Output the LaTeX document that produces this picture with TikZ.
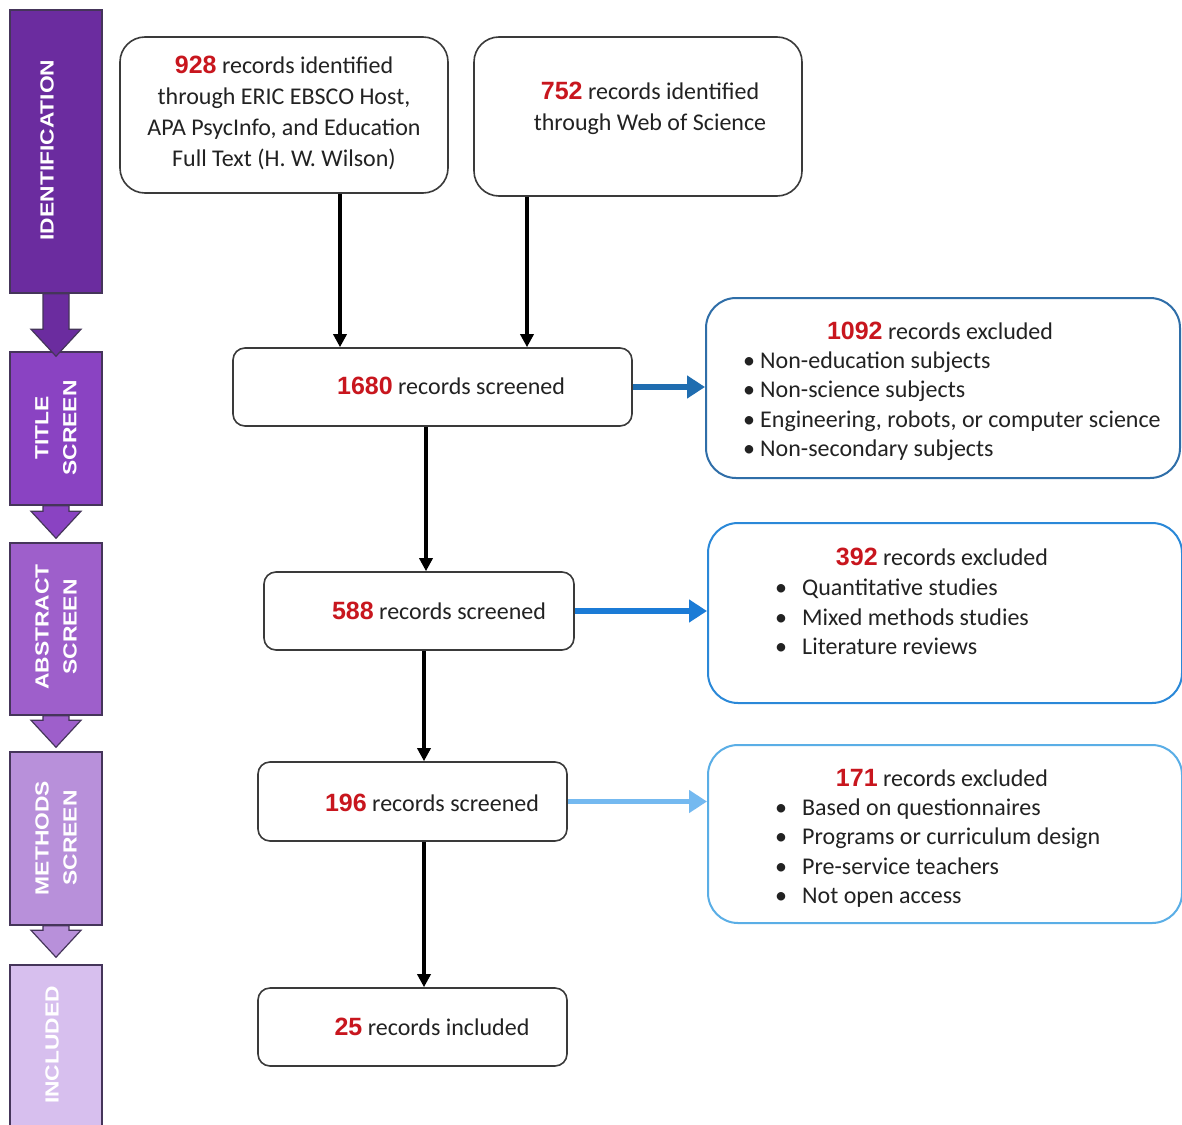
\documentclass[tikz,border=0pt]{standalone}
\usepackage{fontspec}
\setmainfont{Carlito}
\newfontfamily\numfont{Liberation Sans}
\newfontfamily\phasefont{Liberation Sans}[FakeStretch=1.2]
\usetikzlibrary{arrows.meta,calc}
\definecolor{numred}{HTML}{C8161E}
\definecolor{textc}{HTML}{222222}
\definecolor{boxc}{HTML}{3A3A3A}
\definecolor{phaseline}{HTML}{45355A}
\definecolor{phA}{HTML}{6B2C9F}
\definecolor{phB}{HTML}{8A43C2}
\definecolor{phC}{HTML}{9E5FCB}
\definecolor{phD}{HTML}{B890DA}
\definecolor{phE}{HTML}{D7BFEE}
\definecolor{exA}{HTML}{2F6EA8}
\definecolor{exB}{HTML}{2A88D8}
\definecolor{exC}{HTML}{5AAEE6}
\definecolor{arA}{HTML}{1F6DB0}
\definecolor{arB}{HTML}{1B7BD6}
\definecolor{arC}{HTML}{74B9F0}
\newcommand{\rn}[1]{{\numfont\bfseries\fontsize{25}{31}\selectfont\color{numred}#1}}
\newcommand{\bl}[1]{\makebox[#1][l]{•}}
\newcommand{\pharrow}[4]{%
  \coordinate (tip#1) at ($(#2.north)+(0,#4)$);
  \filldraw[parrow, fill=#3] ([xshift=-13pt]#1.south) -- ($(tip#1)+(-13,-27)$) -- ($(tip#1)+(-25,-27)$) -- (tip#1) -- ($(tip#1)+(25,-27)$) -- ($(tip#1)+(13,-27)$) -- ([xshift=13pt]#1.south) -- cycle;}
\begin{document}
\begin{tikzpicture}[x=1pt,y=-1pt,
  txt/.style={font=\fontsize{24}{31}\selectfont, text=textc, inner sep=0pt, align=center},
  lst/.style={font=\fontsize{24}{29.5}\selectfont, text=textc, inner sep=0pt, align=left, anchor=west},
  flowbox/.style={draw=boxc, line width=1.6pt, fill=white, inner sep=0pt},
  exbox/.style={line width=2pt, rounded corners=30pt, fill=white, inner sep=0pt, minimum width=474pt},
  phase/.style={draw=phaseline, line width=1.5pt, minimum width=92pt, inner sep=0pt},
  phasetxt/.style={font=\phasefont\bfseries\fontsize{19}{28}\selectfont, text=white, rotate=90, align=center, inner sep=0pt},
  darr/.style={line width=4pt, -{Triangle[length=13pt,width=13pt]}},
  rarr/.style={line width=6pt, -{Triangle[length=18pt,width=22pt]}},
  parrow/.style={draw=phaseline, line width=1.2pt},
]
\useasboundingbox[fill=white] (0,0) rectangle (1182,1124);

% phase bars
\node[phase, fill=phA, minimum height=283pt] (p1) at (56,151.5) {};
\node[phase, fill=phB, minimum height=153pt] (p2) at (56,428.5) {};
\node[phase, fill=phC, minimum height=172pt] (p3) at (56,629) {};
\node[phase, fill=phD, minimum height=173pt] (p4) at (56,838.5) {};
\node[phase, fill=phE, minimum height=165pt] (p5) at (56,1047.5) {};
\pharrow{p1}{p2}{phA}{5}
\pharrow{p2}{p3}{phB}{-4}
\pharrow{p3}{p4}{phC}{-4}
\pharrow{p4}{p5}{phD}{-7}
\node[phasetxt] (t1) at (47,150) {IDENTIFICATION};
\node[phasetxt] (t2) at (56,428) {TITLE\\SCREEN};
\node[phasetxt] (t3) at (56,627) {ABSTRACT\\SCREEN};
\node[phasetxt] (t4) at (56,838) {METHODS\\SCREEN};
\node[phasetxt] (t5) at (52,1045) {INCLUDED};

% identification boxes
\node[flowbox, rounded corners=25pt, minimum width=328pt, minimum height=156pt] (A) at (284,115) {};
\node[txt] (At) at (284,113) {\rn{928} records identified\\through ERIC EBSCO Host,\\APA PsycInfo, and Education\\Full Text (H. W. Wilson)};
\node[flowbox, rounded corners=25pt, minimum width=328pt, minimum height=159pt] (B) at (638,116.5) {};
\node[txt] (Bt) at (650,108) {\rn{752} records identified\\through Web of Science};

% screening boxes
\node[flowbox, rounded corners=12pt, minimum width=399pt, minimum height=78pt] (S1) at (432.5,387) {};
\node[txt] (S1t) at (451,386) {\rn{1680} records screened};
\node[flowbox, rounded corners=12pt, minimum width=310pt, minimum height=78pt] (S2) at (419,611) {};
\node[txt] (S2t) at (439,611) {\rn{588} records screened};
\node[flowbox, rounded corners=12pt, minimum width=309pt, minimum height=79pt] (S3) at (412.5,801.5) {};
\node[txt] (S3t) at (432,803) {\rn{196} records screened};
\node[flowbox, rounded corners=12pt, minimum width=309pt, minimum height=78pt] (S4) at (412.5,1027) {};
\node[txt] (S4t) at (432,1027) {\rn{25} records included};

% exclusion boxes
\node[exbox, draw=exA, minimum height=180pt] (E1) at (943,388) {};
\node[txt] (E1t) at (940,331) {\rn{1092} records excluded};
\node[lst] (E1l) at (743,406) {\bl{17pt}Non-education subjects\\\bl{17pt}Non-science subjects\\\bl{17pt}Engineering, robots, or computer science\\\bl{17pt}Non-secondary subjects};
\node[exbox, draw=exB, minimum height=180pt] (E2) at (945,613) {};
\node[txt] (E2t) at (942,557) {\rn{392} records excluded};
\node[lst] (E2l) at (775,617) {\bl{27pt}Quantitative studies\\\bl{27pt}Mixed methods studies\\\bl{27pt}Literature reviews};
\node[exbox, draw=exC, minimum height=178pt] (E3) at (945,834) {};
\node[txt] (E3t) at (942,778) {\rn{171} records excluded};
\node[lst] (E3l) at (775,853) {\bl{27pt}Based on questionnaires\\\bl{27pt}Programs or curriculum design\\\bl{27pt}Pre-service teachers\\\bl{27pt}Not open access};

% connectors
\draw[darr] ([xshift=56pt]A.south) -- ([xshift=56pt]A.south |- S1.north);
\draw[darr] ([xshift=-111pt]B.south) -- ([xshift=-111pt]B.south |- S1.north);
\draw[darr] ([xshift=-6.5pt]S1.south) -- ([xshift=-6.5pt]S1.south |- S2.north);
\draw[darr] ([xshift=5pt]S2.south) -- ([xshift=5pt]S2.south |- S3.north);
\draw[darr] ([xshift=11.5pt]S3.south) -- ([xshift=11.5pt]S3.south |- S4.north);
\draw[rarr, draw=arA, fill=arA] (S1.east) -- (S1.east -| E1.west);
\draw[rarr, draw=arB, fill=arB] (S2.east) -- (S2.east -| E2.west);
\draw[rarr, line width=5pt, draw=arC, fill=arC] (S3.east) -- (S3.east -| E3.west);
\end{tikzpicture}
\end{document}
